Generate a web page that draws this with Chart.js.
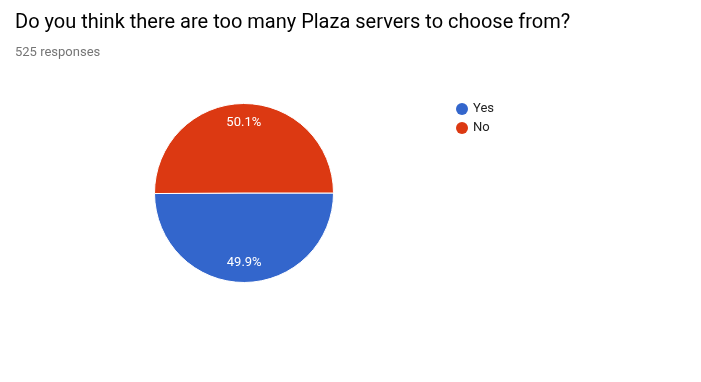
<!DOCTYPE html>
<html><head><meta charset="utf-8">
<script src="https://cdn.jsdelivr.net/npm/chart.js@4"></script>
<style>
html,body{margin:0;padding:0;background:#fff;width:701px;height:382px;overflow:hidden;font-family:Roboto,Arial,sans-serif}
#title{position:absolute;left:15px;top:9px;font-size:20px;color:#000;white-space:nowrap;letter-spacing:0}
#sub{position:absolute;left:15px;top:44px;font-size:13px;color:#757575;white-space:nowrap}
#wrap{position:absolute;left:0;top:0;width:701px;height:382px}
</style></head><body>
<div id="wrap"><canvas id="c" width="701" height="382"></canvas></div>
<div id="title">Do you think there are too many Plaza servers to choose from?</div>
<div id="sub">525 responses</div>
<script>
const categories = ['Yes', 'No'];
const responseCounts = [262, 263];
const sliceColors = ['#3366cc', '#dc3912'];

const labelPlugin = {
  id: 'pctLabels',
  afterDatasetsDraw(chart) {
    const ctx = chart.ctx;
    const meta = chart.getDatasetMeta(0);
    const data = chart.data.datasets[0].data;
    const total = data.reduce((a, b) => a + b, 0);
    ctx.save();
    ctx.font = '13px Roboto, Arial, sans-serif';
    ctx.fillStyle = '#ffffff';
    ctx.textAlign = 'center';
    ctx.textBaseline = 'middle';
    meta.data.forEach((arc, i) => {
      const p = arc.getProps(['x', 'y', 'startAngle', 'endAngle', 'outerRadius'], true);
      const mid = (p.startAngle + p.endAngle) / 2;
      const r = p.outerRadius * 0.78;
      const pct = (data[i] / total * 100).toFixed(1) + '%';
      ctx.fillText(pct, p.x + Math.cos(mid) * r, p.y + Math.sin(mid) * r);
    });
    ctx.restore();
  }
};

const legendPlugin = {
  id: 'sideLegend',
  afterDraw(chart) {
    const ctx = chart.ctx;
    const ds = chart.data.datasets[0];
    ctx.save();
    ctx.font = '13px Roboto, Arial, sans-serif';
    ctx.textBaseline = 'middle';
    ctx.textAlign = 'left';
    chart.data.labels.forEach((lab, i) => {
      const y = 109 + i * 19;
      ctx.beginPath();
      ctx.arc(462, y, 6, 0, Math.PI * 2);
      ctx.fillStyle = ds.backgroundColor[i];
      ctx.fill();
      ctx.fillStyle = '#222222';
      ctx.fillText(lab, 473, y);
    });
    ctx.restore();
  }
};

new Chart(document.getElementById('c'), {
  type: 'pie',
  data: {
    labels: categories,
    datasets: [{
      data: responseCounts,
      backgroundColor: sliceColors,
      borderColor: '#ffffff',
      borderWidth: 1
    }]
  },
  options: {
    responsive: false,
    animation: false,
    rotation: 90,
    layout: { padding: { left: 154, top: 103, right: 367, bottom: 99 } },
    plugins: { legend: { display: false }, tooltip: { enabled: false }, title: { display: false } }
  },
  plugins: [labelPlugin, legendPlugin]
});
</script>
</body></html>
